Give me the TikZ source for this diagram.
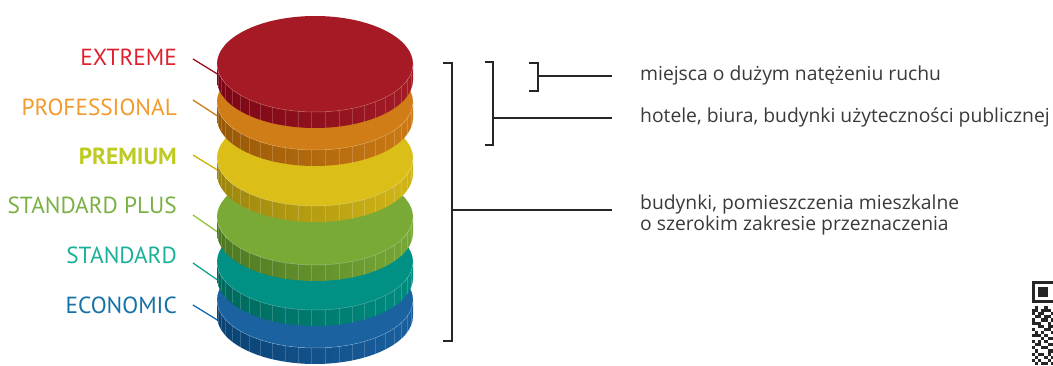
\documentclass[tikz,border=0pt]{standalone}
\usepackage{fontspec}
\setmainfont{PT Sans}
\newfontfamily\descfont{Open Sans}
\definecolor{redF}{HTML}{A51A24}\definecolor{redL}{HTML}{7C0616}\definecolor{redR}{HTML}{A31C26}
\definecolor{oraF}{HTML}{D07C17}\definecolor{oraL}{HTML}{985806}\definecolor{oraR}{HTML}{CC7A15}
\definecolor{yelF}{HTML}{DBBE18}\definecolor{yelL}{HTML}{9C860C}\definecolor{yelR}{HTML}{D2B618}
\definecolor{grnF}{HTML}{7AAA36}\definecolor{grnL}{HTML}{4E7822}\definecolor{grnR}{HTML}{78A836}
\definecolor{teaF}{HTML}{009184}\definecolor{teaL}{HTML}{00685C}\definecolor{teaR}{HTML}{008C80}
\definecolor{bluF}{HTML}{1A63A0}\definecolor{bluL}{HTML}{0A4273}\definecolor{bluR}{HTML}{1A60A0}
\definecolor{txtRed}{HTML}{E0202E}\definecolor{txtOra}{HTML}{F39A2C}\definecolor{txtYel}{HTML}{BFCB22}
\definecolor{txtGrn}{HTML}{7AB143}\definecolor{txtTea}{HTML}{1BB09A}\definecolor{txtBlu}{HTML}{1472A6}
\definecolor{lnRed}{HTML}{9E1020}\definecolor{lnOra}{HTML}{CC7A15}\definecolor{lnYel}{HTML}{D4B000}
\definecolor{lnGrn}{HTML}{8DC63F}\definecolor{lnTea}{HTML}{14A596}\definecolor{lnBlu}{HTML}{1C6AB0}
\definecolor{txtGray}{HTML}{3A3A3A}
\begin{document}
\begin{tikzpicture}[x=1pt,y=1pt,
  lvl/.style={anchor=base east, inner sep=0pt, font=\fontsize{23.3}{26}\selectfont},
  leader/.style={line width=1.3pt},
  brk/.style={line width=1.3pt, black!85},
  desc/.style={anchor=base west, inner sep=0pt, text=txtGray, font=\descfont\fontsize{19.3}{22}\selectfont}]
\useasboundingbox (0,0) rectangle (1053,365);
\fill[white] (0,0) rectangle (1053,365);
% labels
\node[lvl, text=txtRed] (l1) at (177,299) {EXTREME};
\node[lvl, text=txtOra] (l2) at (177,250) {PROFESSIONAL};
\node[lvl, text=txtYel] (l3) at (177,201) {\bfseries PREMIUM};
\node[lvl, text=txtGrn] (l4) at (177,152) {STANDARD PLUS};
\node[lvl, text=txtTea] (l5) at (177,102) {STANDARD};
\node[lvl, text=txtBlu] (l6) at (177,52) {ECONOMIC};
% leader lines
\coordinate (a1) at (193,306); \coordinate (b1) at (219,290);
\coordinate (a2) at (193,265); \coordinate (b2) at (219,248);
\coordinate (a3) at (193,210); \coordinate (b3) at (219,194);
\coordinate (a4) at (193,150); \coordinate (b4) at (219,132);
\coordinate (a5) at (193,102); \coordinate (b5) at (219,84);
\coordinate (a6) at (193,60);  \coordinate (b6) at (219,44);
\draw[leader, lnRed] (a1) -- (b1);
\draw[leader, lnOra] (a2) -- (b2);
\draw[leader, lnYel] (a3) -- (b3);
\draw[leader, lnGrn] (a4) -- (b4);
\draw[leader, lnTea] (a5) -- (b5);
\draw[leader, lnBlu] (a6) -- (b6);
% disks, bottom first
\foreach \cy/\fc/\sl/\sr in {65/bluF/bluL/bluR,103/teaF/teaL/teaR,148/grnF/grnL/grnR,207/yelF/yelL/yelR,263/oraF/oraL/oraR,301/redF/redL/redR}{
  \shade[left color=\sl, right color=\sr] (217,\cy) -- ++(0,-16)
     arc[start angle=180,end angle=360,x radius=98,y radius=48] -- (413,\cy)
     arc[start angle=0,end angle=-180,x radius=98,y radius=48] -- cycle;
  \foreach \t in {188,196,...,352}
    \draw[white, opacity=.18, line width=.4pt] ({315+98*cos(\t)},{\cy+48*sin(\t)}) -- ++(0,-16);
  \fill[\fc] (315,\cy) ellipse[x radius=98, y radius=48];
  \draw[white, opacity=.3, line width=.5pt] (217,\cy) arc[start angle=180,end angle=360,x radius=98,y radius=48];
}
% brackets
\coordinate (B1t) at (452,302); \coordinate (B1b) at (452,24); \coordinate (B1m) at (452,155); \coordinate (B1e) at (612,155);
\coordinate (B2t) at (493,303); \coordinate (B2b) at (493,220); \coordinate (B2m) at (493,247); \coordinate (B2e) at (612,247);
\coordinate (B3t) at (538,302); \coordinate (B3b) at (538,274); \coordinate (B3m) at (538,289); \coordinate (B3e) at (612,289);
\draw[brk] ([xshift=-9pt]B1t) -- (B1t) -- (B1b) -- ([xshift=-9pt]B1b);
\draw[brk] (B1m) -- (B1e);
\draw[brk] ([xshift=-8pt]B2t) -- (B2t) -- (B2b) -- ([xshift=-8pt]B2b);
\draw[brk] (B2m) -- (B2e);
\draw[brk] ([xshift=-9pt]B3t) -- (B3t) -- (B3b) -- ([xshift=-9pt]B3b);
\draw[brk] (B3m) -- (B3e);
% descriptions
\node[desc] (d1) at (640,284) {miejsca o dużym natężeniu ruchu};
\node[desc] (d2) at (640,243) {hotele, biura, budynki użyteczności publicznej};
\node[desc] (d3) at (640,156) {budynki, pomieszczenia mieszkalne};
\node[desc] (d4) at (640,135) {o szerokim zakresie przeznaczenia};
% QR fragment
\begin{scope}
\clip (0,0) rectangle (1053,365);
\fill[black!85] (1032,84) rectangle (1054,62.3);
\fill[white] (1035.1,80.9) rectangle (1054,65.4);
\fill[black!85] (1038.2,77.8) rectangle (1047.5,68.5);
\foreach \c/\r in {1/0,4/0,0/1,1/1,3/1,4/1,5/1,0/2,2/2,3/2,6/2,1/3,2/3,4/3,5/3,0/4,3/4,4/4,6/4,0/5,1/5,2/5,5/5,2/6,3/6,5/6,6/6,0/7,4/7,5/7,1/8,3/8,6/8,0/9,1/9,2/9,4/9,3/10,5/10,6/10,0/11,2/11,4/11,1/12,2/12,5/12,6/12,0/13,3/13,4/13,1/14,5/14,6/14,0/15,2/15,3/15,5/15,1/16,4/16,6/16,0/17,2/17,5/17,1/18,3/18,4/18,6/18}
  \fill[black!85] ({1032+3.1*\c},{365-306-3.1*\r}) rectangle ++(3.1,-3.1);
\end{scope}
\end{tikzpicture}
\end{document}
